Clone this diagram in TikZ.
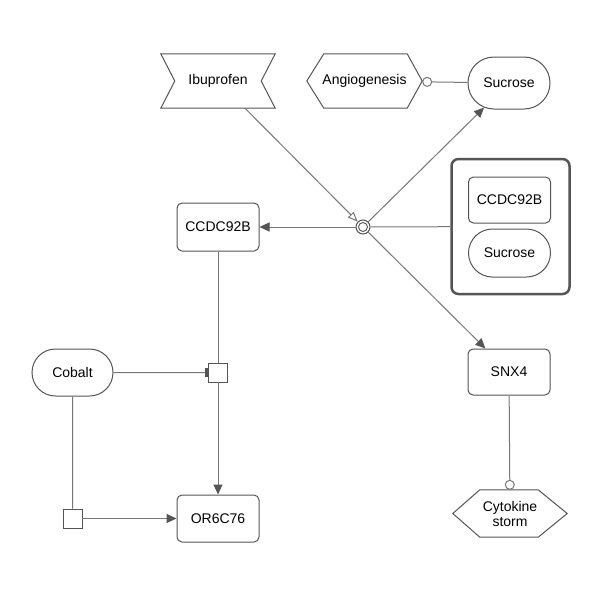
\documentclass[tikz,border=0pt]{standalone}
\usepackage{fontspec}
\setmainfont{Liberation Sans}
\usetikzlibrary{arrows.meta,shapes.misc,shapes.geometric}
\definecolor{nodecol}{HTML}{555555}
\definecolor{edgecol}{HTML}{777777}
\definecolor{tipcol}{HTML}{555555}
\begin{document}
\begin{tikzpicture}[x=1pt,y=-1pt,
  every node/.style={inner sep=0pt, font=\fontsize{14}{16}\selectfont, align=center},
  ent/.style={draw=nodecol, line width=1pt, fill=white},
  boxent/.style={ent, rounded corners=5pt, minimum width=82pt, minimum height=47pt},
  pillent/.style={ent, rounded rectangle, minimum width=82pt, minimum height=50pt},
  sqent/.style={draw=nodecol, line width=0.8pt, fill=white, minimum size=19pt},
  edge/.style={draw=edgecol, line width=1pt},
  arr/.style={-{Triangle[length=10pt,width=9pt,color=tipcol]}},
  openarr/.style={-{Triangle[open,length=10pt,width=8pt]}},
  circarr/.style={-{Circle[open,length=10pt,width=10pt]}},
  teearr/.style={-{Rectangle[length=3pt,width=9pt,color=tipcol]}},
  shapeline/.style={draw=nodecol, line width=1pt}
]
\useasboundingbox[fill=white] (0,0) rectangle (600,600);

% nodes
\node[minimum width=114pt, minimum height=54pt] (ibu) at (218,81) {Ibuprofen};
\draw[shapeline] (ibu.north west) -- (ibu.north east) -- ([xshift=-14pt]ibu.east) -- (ibu.south east) -- (ibu.south west) -- ([xshift=14pt]ibu.west) -- cycle;

\node[minimum width=115pt, minimum height=54pt] (ang) at (364.5,81) {Angiogenesis};
\draw[shapeline] (ang.west) -- ([xshift=17pt]ang.north west) -- ([xshift=-15pt]ang.north east) -- (ang.east) -- ([xshift=-15pt]ang.south east) -- ([xshift=17pt]ang.south west) -- cycle;

\node[pillent, minimum height=52pt] (suc) at (509,83) {Sucrose};

\node[draw=nodecol, line width=1pt, circle, minimum size=14pt, fill=white] (j) at (363,227) {};
\draw[draw=nodecol, line width=0.9pt] (j.center) circle[radius=4.5pt];

\node[boxent, minimum height=48pt] (ccdc) at (218,227) {CCDC92B};

\node[draw=nodecol, line width=2.5pt, rounded corners=7pt, minimum width=118pt, minimum height=135pt] (cx) at (510.5,226.5) {};
\node[boxent, minimum height=46pt] (ic) at (509.5,200) {CCDC92B};
\node[pillent, minimum height=48pt] (is) at (509.5,253) {Sucrose};

\node[boxent, minimum height=46pt] (snx) at (509,372) {SNX4};

\node[minimum width=114pt, minimum height=47pt] (cyt) at (510,513.5) {Cytokine\\[-1pt]storm};
\draw[shapeline] (cyt.west) -- ([xshift=27pt]cyt.north west) -- ([xshift=-29pt]cyt.north east) -- (cyt.east) -- ([xshift=-29pt]cyt.south east) -- ([xshift=27pt]cyt.south west) -- cycle;

\node[pillent, minimum width=81pt, minimum height=47pt] (cob) at (72.5,372.5) {Cobalt};
\node[sqent] (sq1) at (218,372.5) {};
\node[sqent] (sq2) at (72.5,518.5) {};
\node[boxent] (or) at (218,518.5) {OR6C76};

% edges
\draw[edge, openarr] (ibu) -- (j);
\draw[edge, arr] (j) -- (suc);
\draw[edge, arr] (j) -- (ccdc);
\draw[edge] (cx) -- (j);
\draw[edge, arr] (j) -- (snx);
\draw[edge, circarr] (suc) -- (ang);
\draw[edge] (ccdc) -- (sq1);
\draw[edge, arr] (sq1) -- (or);
\draw[edge, teearr] (cob) -- (sq1);
\draw[edge] (cob) -- (sq2);
\draw[edge, arr] (sq2) -- (or);
\draw[edge, circarr] (snx) -- (cyt);
\end{tikzpicture}
\end{document}
